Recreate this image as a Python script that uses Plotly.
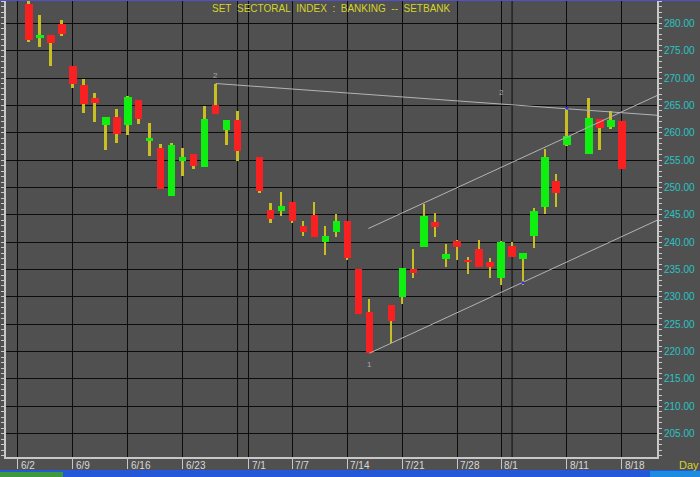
import plotly.graph_objects as go
import pandas as pd

# ---------------- data ----------------
dates = ["2008-06-03", "2008-06-04", "2008-06-05", "2008-06-06",
         "2008-06-09", "2008-06-10", "2008-06-11", "2008-06-12", "2008-06-13",
         "2008-06-16", "2008-06-17", "2008-06-18", "2008-06-19", "2008-06-20",
         "2008-06-23", "2008-06-24", "2008-06-25", "2008-06-26", "2008-06-27",
         "2008-06-30", "2008-07-02", "2008-07-03", "2008-07-04",
         "2008-07-07", "2008-07-08", "2008-07-09", "2008-07-10", "2008-07-11",
         "2008-07-14", "2008-07-15", "2008-07-16", "2008-07-18",
         "2008-07-21", "2008-07-22", "2008-07-23", "2008-07-24", "2008-07-25",
         "2008-07-28", "2008-07-29", "2008-07-30", "2008-07-31", "2008-08-01",
         "2008-08-04", "2008-08-05", "2008-08-06", "2008-08-07", "2008-08-08",
         "2008-08-11", "2008-08-13", "2008-08-14", "2008-08-15", "2008-08-18"]
opens = [283.5, 277.4, 277.8, 279.8,
         272.2, 268.65, 266.4, 261.4, 262.8,
         261.4, 266.0, 258.5, 257.3, 248.4,
         254.8, 256.1, 253.8, 265.1, 260.45,
         262.3, 255.5, 245.9, 245.7,
         247.4, 243.0, 245.0, 240.1, 241.9,
         243.9, 235.1, 227.25, 228.5,
         230.0, 235.05, 239.05, 243.75, 236.9,
         240.2, 236.65, 238.7, 236.4, 233.5,
         239.3, 236.9, 241.1, 246.5, 251.2,
         257.7, 256.2, 262.45, 261.0, 262.2]
highs = [285.0, 281.6, 277.8, 280.6,
         272.2, 269.8, 267.3, 262.8, 264.3,
         266.8, 266.0, 261.8, 257.95, 258.1,
         257.3, 256.1, 264.8, 269.0, 262.3,
         264.0, 255.5, 247.1, 249.2,
         247.4, 243.9, 247.4, 242.95, 245.15,
         243.9, 235.1, 229.6, 228.5,
         235.3, 238.8, 247.0, 245.4, 239.7,
         240.45, 237.35, 240.45, 237.2, 240.3,
         239.95, 238.1, 246.25, 257.0, 252.45,
         264.5, 266.4, 262.45, 264.0, 262.2]
lows = [276.6, 275.7, 272.25, 277.7,
        268.2, 263.7, 262.0, 256.9, 258.1,
        259.6, 261.65, 255.8, 249.7, 248.4,
        252.1, 253.3, 253.8, 263.5, 257.8,
        254.9, 248.9, 243.45, 244.8,
        243.45, 241.2, 241.0, 237.65, 241.0,
        236.75, 226.9, 219.7, 221.5,
        228.7, 233.5, 239.05, 240.9, 235.5,
        236.75, 234.2, 235.4, 233.5, 232.2,
        237.35, 232.2, 239.0, 245.15, 246.5,
        257.6, 256.2, 256.85, 260.7, 253.3]
closes = [276.95, 277.9, 276.45, 278.1,
          269.0, 265.3, 265.5, 262.8, 259.7,
          266.5, 262.6, 259.1, 249.7, 257.8,
          255.6, 254.0, 262.5, 263.5, 262.3,
          256.7, 249.3, 244.2, 246.7,
          243.9, 241.8, 241.0, 241.15, 243.9,
          237.05, 226.9, 219.7, 225.65,
          235.3, 234.3, 244.8, 242.7, 237.85,
          239.05, 236.45, 235.4, 235.4, 240.0,
          237.35, 238.05, 245.7, 255.5, 248.95,
          259.4, 262.75, 260.9, 262.3, 253.3]

tick_dates = ["2008-06-02", "2008-06-09", "2008-06-16", "2008-06-23", "2008-07-01",
              "2008-07-07", "2008-07-14", "2008-07-21", "2008-07-28", "2008-08-01",
              "2008-08-11", "2008-08-18"]
tick_labels = ["6/2", "6/9", "6/16", "6/23", "7/1", "7/7", "7/14", "7/21", "7/28",
               "8/1", "8/11", "8/18"]
extra_grid_dates = ["2008-06-30", "2008-08-04"]

# trend lines (two anchor points each)
resist_dates = ["2008-06-26 12:00", "2008-08-21 16:48"]
resist_vals = [269.0, 263.2]
support_dates = ["2008-07-16 12:00", "2008-08-21 16:48"]
support_vals = [219.7, 244.0]
channel_dates = ["2008-07-16 10:00", "2008-08-21 16:48"]
channel_vals = [242.5, 266.8]

pivot_dates = ["2008-06-26", "2008-08-01", "2008-07-16"]
pivot_vals = [270.4, 267.4, 217.6]
pivot_text = ["2", "2", "1"]

touch_dates = ["2008-08-11", "2008-08-05"]
touch_vals = [264.5, 232.6]

title_text = "SET\u00a0\u00a0SECTORAL\u00a0\u00a0INDEX\u00a0\u00a0:\u00a0\u00a0BANKING\u00a0\u00a0--\u00a0\u00a0SETBANK"

# ---------------- styling ----------------
BG = "#505050"
GRID = "#0c0c0c"
AXIS = "#c8c8c8"
WICK = "#c8c020"
UP = "#10f010"
DOWN = "#f82020"
YELLOW = "#d4d42a"
CYAN = "#28c4c4"
FONT = "Liberation Sans, Arial, sans-serif"
DAY_MS = 86400000
NOON = pd.Timedelta(hours=12)

x = pd.to_datetime(dates) + NOON
o = pd.Series(opens)
h = pd.Series(highs)
lo = pd.Series(lows)
c = pd.Series(closes)
body_base = pd.concat([o, c], axis=1).min(axis=1)
body_h = (c - o).abs()
colors = [UP if cc >= oo else DOWN for oo, cc in zip(opens, closes)]

fig = go.Figure()
fig.add_trace(go.Bar(x=x, y=h - lo, base=lo, width=0.18 * DAY_MS,
                     marker=dict(color=WICK, line=dict(width=0)), hoverinfo="skip"))
fig.add_trace(go.Bar(x=x, y=body_h, base=body_base, width=0.68 * DAY_MS,
                     marker=dict(color=colors, line=dict(width=0))))

for dd, vv in [(resist_dates, resist_vals), (support_dates, support_vals),
               (channel_dates, channel_vals)]:
    fig.add_trace(go.Scatter(x=pd.to_datetime(dd), y=vv, mode="lines",
                             line=dict(color="#b4b4b4", width=1), hoverinfo="skip"))

fig.add_trace(go.Scatter(x=pd.to_datetime(touch_dates) + NOON, y=touch_vals, mode="markers",
                         marker=dict(color="#3030ff", size=3), hoverinfo="skip"))

for d, v, t in zip(pivot_dates, pivot_vals, pivot_text):
    fig.add_annotation(x=pd.to_datetime(d) + NOON, y=v, text=t, showarrow=False,
                       font=dict(family=FONT, size=8, color="#a8a8a8"))

tickx = pd.to_datetime(tick_dates) + NOON
for d, t in zip(tickx, tick_labels):
    fig.add_annotation(x=d, y=0, xref="x", yref="paper", text=t, showarrow=False,
                       xanchor="left", yanchor="top", xshift=1, yshift=-1,
                       font=dict(family=FONT, size=10, color="#d8d8d8"))

for d in pd.to_datetime(extra_grid_dates) + NOON:
    fig.add_shape(type="line", x0=d, x1=d, y0=0, y1=1, xref="x", yref="paper",
                  line=dict(color=GRID, width=1), layer="below")

fig.add_annotation(x=0.5, y=1, xref="paper", yref="paper", text=title_text,
                   showarrow=False, xanchor="center", yanchor="top", yshift=0,
                   font=dict(family=FONT, size=10, color=YELLOW))
fig.add_annotation(x=1, y=0, xref="paper", yref="paper", text="Day", showarrow=False,
                   xanchor="left", yanchor="top", xshift=20, yshift=0,
                   font=dict(family=FONT, size=11, color=YELLOW))

# window decorations (pixel -> paper conversions)
L, R, T, B, W, H = 6, 43, 1, 20, 700, 477
pw, ph = W - L - R, H - T - B
def px(xp):
    return (xp - L) / pw
def py(yp):
    return (H - B - yp) / ph
fig.add_shape(type="rect", xref="paper", yref="paper", x0=px(0), x1=px(700),
              y0=py(470), y1=py(477), fillcolor="#2458d8", line=dict(width=0))
fig.add_shape(type="rect", xref="paper", yref="paper", x0=px(0), x1=px(63),
              y0=py(472), y1=py(477), fillcolor="#3c9a3c", line=dict(width=0))
fig.add_shape(type="rect", xref="paper", yref="paper", x0=px(650), x1=px(700),
              y0=py(471), y1=py(477), fillcolor="#1c8ce0", line=dict(width=0))
fig.add_shape(type="rect", xref="paper", yref="paper", x0=px(0), x1=px(700),
              y0=py(0), y1=py(1), fillcolor="#5050c8", line=dict(width=0))

fig.update_layout(
    width=W, height=H, margin=dict(l=L, r=R, t=T, b=B, pad=0),
    paper_bgcolor=BG, plot_bgcolor=BG, barmode="overlay", bargap=0,
    showlegend=False,
    xaxis=dict(type="date", range=["2008-05-30 09:50", "2008-08-21 16:48"],
               rangebreaks=[dict(bounds=["sat", "mon"])],
               tickmode="array", tickvals=tickx, showticklabels=False,
               ticks="outside", ticklen=10, tickwidth=1, tickcolor=AXIS,
               showgrid=True, gridcolor=GRID, gridwidth=1,
               showline=True, linecolor=AXIS, linewidth=2, zeroline=False),
    yaxis=dict(side="right", range=[200.74, 284.08], tickmode="linear", tick0=0, dtick=5,
               tickformat=".2f", ticks="outside", ticklen=3, tickcolor=AXIS,
               minor=dict(dtick=1, tick0=0, ticks="outside", ticklen=3, tickcolor=AXIS,
                          showgrid=False),
               showgrid=True, gridcolor=GRID, gridwidth=1,
               showline=True, linecolor=AXIS, linewidth=2, mirror="ticks",
               zeroline=False, tickfont=dict(family=FONT, size=10, color=CYAN)),
)

fig.write_html("out.html", config={"displayModeBar": False},
               post_script="document.body.style.margin='0';document.body.style.overflow='hidden';")
